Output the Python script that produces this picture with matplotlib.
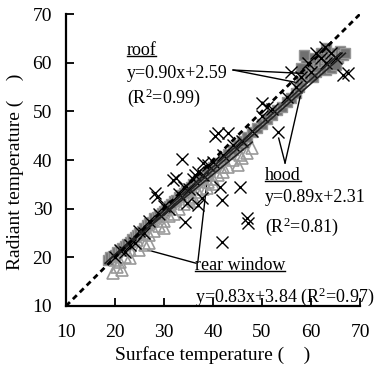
import matplotlib
matplotlib.use("Agg")
import matplotlib.pyplot as plt

plt.rcParams['font.family'] = ['Liberation Serif', 'DejaVu Serif']
plt.rcParams['mathtext.fontset'] = 'custom'
plt.rcParams['mathtext.rm'] = 'Liberation Serif'
plt.rcParams['mathtext.it'] = 'Liberation Serif:italic'

# roof (grey squares)
roof_x = [18.5, 19, 19.5, 20, 20.5, 21, 21.5, 22, 22.5, 23, 23.5, 24, 24.5, 25, 25.5,
          26, 26.5, 27, 27.5, 28, 28.5, 29, 29.5, 30, 30.5, 31, 31.5, 32, 32.5, 33,
          33.5, 34, 34.5, 35, 35.5, 36, 36.5, 37, 37.5, 38, 38.5, 39, 40, 41, 42, 43,
          44, 45, 46, 47, 48, 49, 50, 51, 52, 53, 54, 55, 56, 57, 57.5, 58, 58.5, 59,
          59.5, 60, 60.5, 61, 61.5, 62, 62.5, 63, 63.5, 64, 64.5, 65, 65.5, 66, 66.5,
          60, 62, 59, 61, 63, 64, 58, 65, 67, 58.5, 63, 60.5]
roof_y = [19.5, 20, 20.3, 20.5, 21, 21.5, 22, 22.3, 22.8, 23.2, 23.8, 24.2, 24.5, 25, 25.5,
          26, 26.6, 27, 27.3, 28, 28.2, 28.8, 29.2, 29.6, 30, 30.5, 31, 31.5, 31.8, 32.3,
          32.8, 33.2, 33.6, 34, 34.5, 35, 35.4, 35.8, 36.3, 36.8, 37.2, 37.6, 38.5, 39.4, 40.3, 41.2,
          42, 43, 44, 44.8, 45.7, 46.6, 47.5, 48.4, 49.3, 50.2, 51, 52, 52.8, 53.8, 55, 56, 57, 58,
          57.5, 59, 58.5, 60, 59, 60.5, 59.5, 61, 60, 61.5, 60.5, 62, 61, 62.5, 61.5,
          61, 62, 60, 58, 58.5, 59, 59, 59.5, 62, 61.5, 63, 57]

# hood (black crosses)
hood_x = [28.2, 28.6, 31.8, 32.4, 33.7, 34.3, 36.9, 41.0, 43.1, 41.4, 45.5, 41.8, 46.9,
          47.1, 41.8, 66.5, 50.0, 53.3, 59.4, 67.6, 62.9, 38.0, 37.8, 34.7, 36.3, 40.4,
          20, 21, 22, 23, 24, 25, 26, 27, 29, 30, 31, 33, 34, 35, 36, 37, 38, 39, 40,
          42, 44, 46, 48, 51, 52, 55, 57, 58, 60, 61, 62, 63, 64, 65, 56, 50]
hood_y = [33.2, 32.4, 35.9, 36.3, 40.2, 27.3, 30.7, 45.5, 45.5, 34.4, 34.4, 31.8, 28.1,
          27.0, 23.1, 57.4, 51.7, 45.7, 59.9, 57.8, 63.2, 39.4, 32.2, 31.1, 36.9, 45.0,
          20, 21.5, 21, 22.5, 23, 25.5, 25, 27.5, 29, 30.5, 30, 33, 34.5, 34, 36, 37.5, 37, 39, 39.5,
          41, 43, 44, 46, 51, 50.5, 53, 55, 57, 58, 62, 61, 60, 62, 61, 58, 49]

# rear window (light grey triangles)
rear_x = [19.6, 21.4, 20.5, 23.1, 24.5, 26.1, 22, 25, 27, 28, 29, 30, 31, 32, 33, 34, 35,
          36, 37, 38, 38.8, 39, 40, 41, 42, 43, 44, 45.5, 46, 47, 48, 45, 42, 40, 36, 30,
          27, 26, 23, 21, 20]
rear_y = [16.8, 17.4, 18, 19.9, 23.5, 22.5, 20, 21.5, 24.5, 25.5, 26.5, 27.5, 28.5, 29, 30,
          31, 32, 32.5, 33.5, 34, 34.2, 35.5, 36, 37, 37.5, 38.5, 40, 41, 40.5, 41.5, 42.5,
          39, 38.5, 35, 31.5, 26, 23, 25, 21.5, 19, 19.5]

fits = [(0.90, 2.59, 18, 66), (0.89, 2.31, 20, 67), (0.83, 3.84, 19, 48)]

x_ticks = [10, 20, 30, 40, 50, 60, 70]
y_ticks = [10, 20, 30, 40, 50, 60, 70]

fig = plt.figure(figsize=(3.77, 3.70), dpi=100)
ax = fig.add_axes([0.175, 0.173, 0.78, 0.789])

ax.plot(roof_x, roof_y, 's', ms=7, mfc='#707070', mec='#969696', mew=1.0, zorder=2)
ax.plot(rear_x, rear_y, '^', ms=9, mfc='none', mec='#9a9a9a', mew=1.2, zorder=3)
ax.plot(hood_x, hood_y, 'x', ms=9, color='black', mew=1.0, zorder=4)

for a, b, x0, x1 in fits:
    ax.plot([x0, x1], [a * x0 + b, a * x1 + b], color='#222222', lw=1.2, zorder=5)

ax.plot([10, 70], [10, 70], color='black', ls=(0, (2, 1.5)), lw=2, zorder=6)

# leader lines
ax.plot([44.1, 58.4], [58.5, 57.8], color='black', lw=1)
ax.plot([44.1, 56.7], [58.5, 56.0], color='black', lw=1)
ax.plot([54.7, 57.8], [39.4, 53.1], color='black', lw=1)
ax.plot([54.7, 53.4], [39.4, 44.5], color='black', lw=1)
ax.plot([36.5, 26.7], [18.8, 21.5], color='black', lw=1)
ax.plot([36.9, 39.0], [19.0, 37.5], color='black', lw=1)

fs = 13
labels = []
labels.append(ax.text(22.4, 62.6, 'roof', fontsize=fs, va='center'))
ax.text(22.4, 57.8, 'y=0.90x+2.59', fontsize=fs, va='center')
ax.text(22.4, 52.7, '(R$^2$=0.99)', fontsize=fs, va='center')
labels.append(ax.text(50.6, 36.9, 'hood', fontsize=fs, va='center'))
ax.text(50.6, 32.2, 'y=0.89x+2.31', fontsize=fs, va='center')
ax.text(50.6, 26.2, '(R$^2$=0.81)', fontsize=fs, va='center')
labels.append(ax.text(36.3, 18.4, 'rear window', fontsize=fs, va='center'))
ax.text(36.3, 11.8, 'y=0.83x+3.84 (R$^2$=0.97)', fontsize=fs, va='center', clip_on=False)

ax.set_xlim(10, 70)
ax.set_ylim(10, 70)
ax.set_xticks(x_ticks)
ax.set_yticks(y_ticks)
ax.tick_params(direction='in', length=6, width=1.3, labelsize=14)
ax.tick_params(axis='x', pad=13)
ax.tick_params(axis='y', pad=10)
for s in ['top', 'right']:
    ax.spines[s].set_visible(False)
for s in ['left', 'bottom']:
    ax.spines[s].set_linewidth(1.6)

ax.set_xlabel('Surface temperature (    )', fontsize=14)
ax.set_ylabel('Radiant temperature (    )', fontsize=14)
ax.xaxis.set_label_coords(0.5, -0.168)
ax.yaxis.set_label_coords(-0.173, 0.459)
ax.xaxis.label.set_va('center')
ax.yaxis.label.set_va('center')

# underline the series names
fig.canvas.draw()
inv = ax.transData.inverted()
for t in labels:
    bb = t.get_window_extent()
    (x0, y0), (x1, _) = inv.transform([(bb.x0, bb.y0 + 3), (bb.x1, bb.y0 + 3)])
    ax.plot([x0, x1], [y0, y0], color='black', lw=1)

fig.savefig('out.png', dpi=100)
